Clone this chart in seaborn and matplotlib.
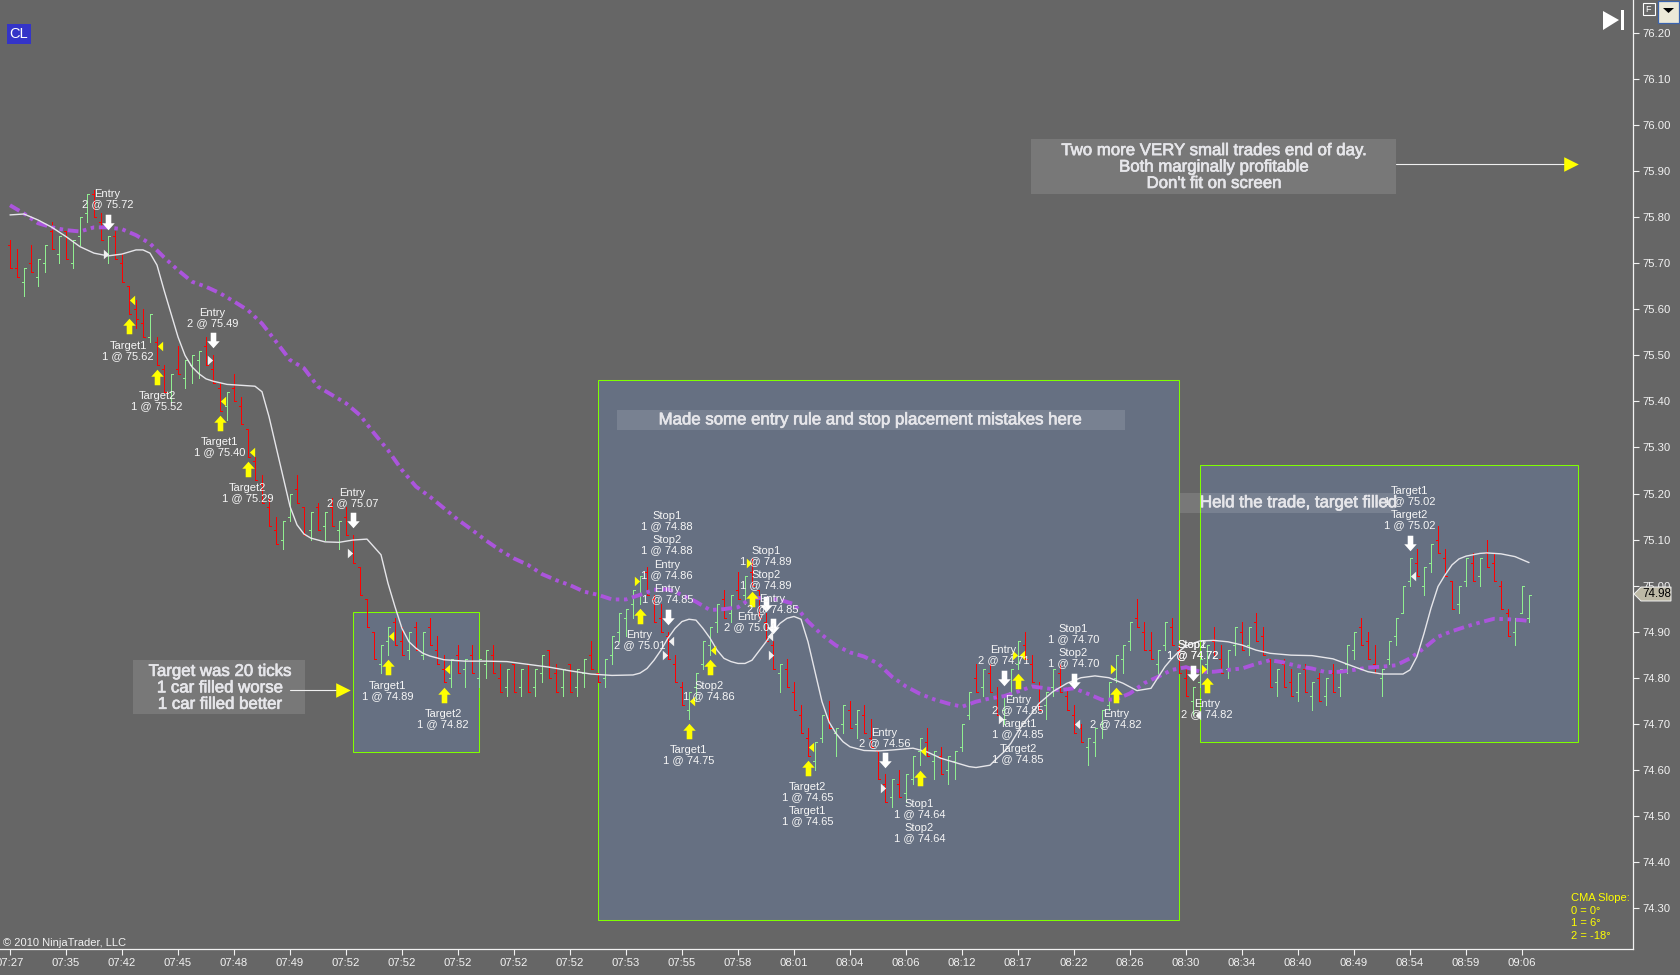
import numpy as np
import pandas as pd
import seaborn as sns
import matplotlib.pyplot as plt
import matplotlib.patheffects as pe
from matplotlib.patches import Rectangle, Polygon
from matplotlib.path import Path

BG = '#666666'
BOX = '#667082'
EDGE = '#7fff00'
BAR_UP = '#90ee90'
BAR_DOWN = '#ff0000'
CMA = '#ab55dc'
W, H = 1680, 975

# range bars
highs = [75.75,75.73,75.69,75.74,75.71,75.74,75.79,75.76,75.77,75.75,
         75.80,75.85,75.86,75.81,75.76,75.77,75.72,75.65,75.62,75.60,
         75.59,75.54,75.48,75.46,75.52,75.49,75.50,75.51,75.54,75.50,
         75.44,75.42,75.46,75.41,75.34,75.28,75.24,75.19,75.15,75.14,
         75.20,75.24,75.17,75.16,75.18,75.16,75.19,75.14,75.17,75.11,
         75.04,74.97,74.90,74.87,74.91,74.93,74.91,74.90,74.92,74.90,
         74.93,74.89,74.85,74.84,74.87,74.84,74.87,74.84,74.86,74.87,
         74.83,74.82,74.83,74.82,74.83,74.82,74.85,74.86,74.83,74.82,
         74.83,74.82,74.84,74.88,74.81,74.84,74.89,74.94,74.95,74.99,
         75.02,75.04,74.98,74.96,74.90,74.85,74.79,74.77,74.81,74.88,
         74.91,74.96,74.99,74.98,75.03,75.02,75.06,74.99,74.94,74.88,
         74.83,74.84,74.79,74.74,74.69,74.66,74.72,74.75,74.69,74.74,
         74.75,74.73,74.74,74.71,74.64,74.59,74.58,74.60,74.59,74.63,
         74.67,74.69,74.64,74.65,74.63,74.64,74.70,74.77,74.83,74.82,
         74.83,74.78,74.76,74.82,74.88,74.90,74.85,74.79,74.77,74.82,
         74.83,74.78,74.74,74.70,74.67,74.69,74.73,74.79,74.85,74.87,
         74.92,74.97,74.92,74.90,74.86,74.92,74.93,74.87,74.82,74.78,
         74.84,74.87,74.91,74.87,74.86,74.91,74.92,74.91,74.94,74.91,
         74.84,74.82,74.84,74.82,74.81,74.83,74.79,74.81,74.80,74.83,
         74.82,74.87,74.90,74.93,74.90,74.87,74.82,74.88,74.93,75.00,
         75.06,75.08,75.04,75.09,75.13,75.08,75.01,75.00,75.06,75.07,
         75.06,75.10,75.07,75.01,74.95,74.93,75.00,74.98]
lows = [75.69,75.67,75.63,75.68,75.65,75.68,75.73,75.70,75.71,75.69,
        75.74,75.79,75.80,75.75,75.70,75.71,75.66,75.59,75.56,75.54,
        75.53,75.48,75.42,75.40,75.46,75.43,75.44,75.45,75.48,75.44,
        75.38,75.36,75.40,75.35,75.28,75.23,75.18,75.13,75.09,75.08,
        75.14,75.18,75.11,75.10,75.12,75.10,75.13,75.08,75.11,75.05,
        74.98,74.91,74.84,74.81,74.85,74.87,74.85,74.84,74.86,74.84,
        74.87,74.83,74.79,74.78,74.81,74.78,74.81,74.78,74.80,74.81,
        74.77,74.76,74.77,74.76,74.77,74.76,74.79,74.80,74.77,74.76,
        74.77,74.76,74.78,74.82,74.79,74.78,74.83,74.88,74.89,74.93,
        74.96,74.98,74.92,74.90,74.84,74.79,74.74,74.71,74.75,74.82,
        74.85,74.90,74.93,74.92,74.97,74.96,75.00,74.93,74.88,74.82,
        74.77,74.78,74.73,74.68,74.63,74.60,74.66,74.69,74.63,74.68,
        74.69,74.67,74.68,74.65,74.58,74.53,74.52,74.54,74.53,74.57,
        74.61,74.63,74.58,74.59,74.57,74.58,74.64,74.71,74.77,74.76,
        74.77,74.72,74.70,74.76,74.82,74.84,74.79,74.73,74.71,74.76,
        74.77,74.73,74.68,74.66,74.61,74.63,74.67,74.73,74.79,74.81,
        74.86,74.91,74.86,74.84,74.80,74.86,74.87,74.81,74.76,74.72,
        74.78,74.81,74.85,74.81,74.80,74.85,74.86,74.85,74.88,74.85,
        74.78,74.76,74.78,74.76,74.75,74.77,74.73,74.75,74.74,74.77,
        74.76,74.81,74.84,74.87,74.84,74.81,74.76,74.83,74.87,74.94,
        75.00,75.02,74.98,75.03,75.07,75.02,74.95,74.94,75.00,75.01,
        75.00,75.04,75.01,74.95,74.89,74.87,74.94,74.92]
opens = [75.74,75.69,75.66,75.70,75.67,75.70,75.77,75.72,75.77,75.70,
         75.76,75.81,75.85,75.79,75.72,75.76,75.70,75.65,75.60,75.57,
         75.54,75.53,75.47,75.42,75.47,75.45,75.48,75.49,75.52,75.47,
         75.43,75.39,75.43,75.39,75.34,75.27,75.22,75.17,75.12,75.10,
         75.15,75.21,75.17,75.12,75.17,75.13,75.17,75.12,75.15,75.10,
         75.04,74.97,74.90,74.83,74.88,74.92,74.88,74.86,74.91,74.85,
         74.91,74.86,74.82,74.80,74.85,74.82,74.85,74.80,74.83,74.85,
         74.80,74.78,74.83,74.78,74.83,74.78,74.81,74.86,74.81,74.78,
         74.83,74.78,74.81,74.85,74.81,74.80,74.85,74.90,74.93,74.96,
         74.98,75.03,74.97,74.93,74.89,74.83,74.78,74.73,74.78,74.83,
         74.87,74.92,74.97,74.94,74.99,74.98,75.03,74.99,74.92,74.87,
         74.81,74.82,74.77,74.72,74.67,74.62,74.67,74.71,74.68,74.70,
         74.73,74.70,74.72,74.67,74.64,74.57,74.54,74.57,74.55,74.58,
         74.64,74.66,74.62,74.63,74.60,74.62,74.65,74.72,74.80,74.78,
         74.81,74.76,74.73,74.77,74.83,74.87,74.83,74.78,74.74,74.78,
         74.81,74.76,74.72,74.69,74.65,74.66,74.70,74.74,74.80,74.84,
         74.88,74.93,74.90,74.86,74.83,74.87,74.91,74.86,74.80,74.75,
         74.79,74.83,74.88,74.84,74.82,74.87,74.90,74.87,74.92,74.89,
         74.84,74.79,74.83,74.79,74.77,74.82,74.76,74.80,74.76,74.81,
         74.78,74.83,74.86,74.91,74.88,74.83,74.80,74.84,74.89,74.94,
         75.01,75.05,75.00,75.05,75.10,75.06,75.01,74.96,75.01,75.05,
         75.02,75.07,75.05,75.00,74.94,74.90,74.94,74.93]
closes = [75.69,75.67,75.69,75.68,75.71,75.74,75.73,75.76,75.71,75.75,
          75.80,75.85,75.80,75.75,75.76,75.71,75.66,75.59,75.58,75.54,
          75.59,75.48,75.42,75.46,75.46,75.49,75.50,75.51,75.48,75.44,
          75.38,75.42,75.40,75.35,75.28,75.23,75.18,75.13,75.09,75.14,
          75.20,75.18,75.11,75.16,75.12,75.16,75.13,75.14,75.11,75.05,
          74.98,74.91,74.84,74.87,74.91,74.87,74.85,74.90,74.86,74.90,
          74.87,74.83,74.79,74.84,74.81,74.84,74.81,74.84,74.86,74.81,
          74.77,74.82,74.77,74.82,74.77,74.82,74.85,74.80,74.77,74.82,
          74.77,74.82,74.84,74.82,74.79,74.84,74.89,74.94,74.95,74.99,
          75.02,74.98,74.92,74.90,74.84,74.79,74.74,74.77,74.81,74.88,
          74.91,74.96,74.93,74.98,74.97,75.02,75.00,74.93,74.88,74.82,
          74.83,74.78,74.73,74.68,74.63,74.66,74.72,74.69,74.69,74.74,
          74.69,74.73,74.68,74.65,74.58,74.53,74.58,74.54,74.59,74.63,
          74.67,74.63,74.64,74.59,74.63,74.64,74.70,74.77,74.77,74.82,
          74.77,74.72,74.76,74.82,74.88,74.84,74.79,74.73,74.77,74.82,
          74.77,74.73,74.68,74.66,74.67,74.69,74.73,74.79,74.85,74.87,
          74.92,74.91,74.86,74.84,74.86,74.92,74.87,74.81,74.76,74.78,
          74.84,74.87,74.85,74.81,74.86,74.91,74.86,74.91,74.88,74.85,
          74.78,74.82,74.78,74.76,74.81,74.77,74.79,74.75,74.80,74.77,
          74.82,74.87,74.90,74.87,74.84,74.81,74.82,74.88,74.93,75.00,
          75.06,75.02,75.04,75.09,75.07,75.02,74.95,75.00,75.06,75.01,
          75.06,75.04,75.01,74.95,74.89,74.93,75.00,74.98]

# white smoothed line and purple CMA
white_x = [0,2,4,6,8,10,12,14,16,18,19,20,21,22,23,24,25,26,27,28,29,31,33,35,36,37,38,39,40,41,42,43,45,47,49,
           51,53,54,55,56,57,58,59,60,62,65,68,71,74,77,80,83,86,89,90,91,92,93,94,95,96,97,98,99,100,101,102,103,104,105,106,
           107,108,109,110,111,112,113,114,115,116,117,118,119,120,122,124,126,129,131,133,135,137,138,140,141,142,143,144,145,146,147,149,
           151,153,155,157,159,161,163,165,166,167,168,170,172,174,176,178,180,183,186,189,192,194,196,199,200,201,202,203,204,205,206,207,208,210,211,213,215,217]
white_y = [75.805,75.807,75.794,75.778,75.758,75.736,75.722,75.716,75.720,75.729,75.729,75.722,75.696,75.642,75.591,75.540,75.500,75.475,75.460,75.449,75.444,75.437,75.435,75.433,75.421,75.367,75.302,75.237,75.172,75.132,75.112,75.103,75.095,75.094,75.099,
           75.101,75.067,75.005,74.954,74.907,74.878,74.864,74.853,74.847,74.839,74.836,74.836,74.835,74.829,74.823,74.815,74.808,74.805,74.806,74.810,74.820,74.838,74.860,74.886,74.907,74.922,74.927,74.925,74.907,74.886,74.860,74.842,74.835,74.831,74.831,74.838,
           74.858,74.878,74.900,74.918,74.929,74.933,74.927,74.878,74.813,74.748,74.704,74.679,74.661,74.650,74.642,74.641,74.643,74.647,74.639,74.625,74.616,74.607,74.605,74.610,74.625,74.639,74.658,74.683,74.705,74.723,74.744,74.770,
           74.788,74.800,74.804,74.800,74.788,74.772,74.777,74.824,74.842,74.857,74.869,74.880,74.881,74.878,74.871,74.860,74.853,74.849,74.848,74.841,74.824,74.813,74.808,74.808,74.817,74.846,74.896,74.951,74.998,75.023,75.045,75.058,75.064,75.070,75.071,75.069,75.063,75.050]
cma_x = list(range(0, 218, 2)) + [217]
cma_y = [75.826,75.808,75.787,75.778,75.772,75.769,75.778,75.778,75.774,75.761,
         75.743,75.713,75.685,75.660,75.649,75.635,75.617,75.598,75.569,75.530,
         75.490,75.472,75.432,75.414,75.396,75.370,75.331,75.294,75.251,75.215,
         75.193,75.168,75.143,75.121,75.098,75.077,75.059,75.045,75.025,75.012,
         75.001,74.987,74.980,74.970,74.970,74.980,74.991,74.992,74.980,74.965,
         74.947,74.949,74.953,74.974,74.972,74.969,74.960,74.922,74.893,74.870,
         74.855,74.846,74.831,74.802,74.781,74.765,74.753,74.744,74.737,74.748,
         74.755,74.760,74.770,74.781,74.777,74.773,74.777,74.765,74.752,74.753,
         74.766,74.788,74.802,74.817,74.823,74.813,74.813,74.817,74.820,74.830,
         74.838,74.833,74.825,74.820,74.812,74.813,74.817,74.822,74.824,74.827,
         74.842,74.864,74.889,74.901,74.911,74.920,74.928,74.927,74.925,74.923]

# execution arrows and fill triangles
down_x = [14,29,49,94,108,109,125,142,152,169,200]
down_y = [75.79,75.533,75.142,74.932,74.960,74.912,74.621,74.799,74.793,74.810,75.092]
up_x = [17,21,30,34,54,62,90,100,97,106,114,130,144,158,171]
up_y = [75.564,75.453,75.353,75.253,74.823,74.762,74.934,74.823,74.684,74.971,74.604,74.582,74.793,74.762,74.784]
yl_x = [17.4,21.4,30.4,34.6,54.4,62.4,100.4,97.4,114.4,130.4,144.6]
yl_y = [75.62,75.52,75.40,75.29,74.89,74.82,74.86,74.75,74.65,74.64,74.85]
yr_x = [89.6,105.6,143.6,157.6,170.6]
yr_y = [75.01,75.05,74.85,74.82,74.82]
wr_x = [13.7,28.6,48.6,93.6,108.7,124.7,141.6]
wr_y = [75.72,75.49,75.07,74.85,74.85,74.56,74.71]
wl_x = [94.4,108.6,152.4,169.7,200.4]
wl_y = [74.88,74.89,74.70,74.72,75.02]

# order labels
trade_text = ['Entry\n2 @ 75.72','Target1\n1 @ 75.62','Target2\n1 @ 75.52','Entry\n2 @ 75.49','Target1\n1 @ 75.40',
              'Target2\n1 @ 75.29','Entry\n2 @ 75.07','Target1\n1 @ 74.89','Target2\n1 @ 74.82','Stop1\n1 @ 74.88',
              'Stop2\n1 @ 74.88','Entry\n1 @ 74.86','Entry\n1 @ 74.85','Entry\n2 @ 75.01','Stop2\n1 @ 74.86',
              'Target1\n1 @ 74.75','Stop1\n1 @ 74.89','Stop2\n1 @ 74.89','Entry\n2 @ 74.85','Entry\n2 @ 75.04',
              'Target2\n1 @ 74.65','Target1\n1 @ 74.65','Entry\n2 @ 74.56','Stop1\n1 @ 74.64','Stop2\n1 @ 74.64',
              'Entry\n2 @ 74.71','Entry\n2 @ 74.85','Target1\n1 @ 74.85','Target2\n1 @ 74.85','Stop1\n1 @ 74.70',
              'Stop2\n1 @ 74.70','Entry\n2 @ 74.82','Stop1\n1 @ 74.72','Stop2\n1 @ 74.72','Entry\n2 @ 74.82',
              'Target1\n1 @ 75.02','Target2\n1 @ 75.02']
trade_x = [13.9,16.9,21.0,28.9,29.9,33.9,48.9,53.9,61.9,93.9,93.9,93.9,93.9,89.9,99.9,96.9,108.0,108.0,108.9,105.7,
           113.9,113.9,124.9,129.9,129.9,141.9,144.0,144.0,144.0,151.9,151.9,158.0,168.9,168.9,171.0,199.9,199.9]
trade_y = [75.84,75.51,75.40,75.58,75.30,75.20,75.19,74.77,74.71,75.14,75.088,75.034,74.982,74.882,74.771,74.632,75.064,75.012,74.96,74.921,
           74.552,74.50,74.669,74.515,74.463,74.849,74.741,74.689,74.634,74.895,74.843,74.71,74.86,74.86,74.732,75.195,75.142]

price_ticks = [76.20,76.10,76.00,75.90,75.80,75.70,75.60,75.50,75.40,75.30,75.20,75.10,75.00,74.90,74.80,74.70,74.60,74.50,74.40,74.30]
time_labels = ['07:27','07:35','07:42','07:45','07:48','07:49','07:52','07:52','07:52','07:52','07:52','07:53','07:55','07:58',
               '08:01','08:04','08:06','08:12','08:17','08:22','08:26','08:30','08:34','08:40','08:49','08:54','08:59','09:06']
time_pos = list(range(0, 224, 8))

df = pd.DataFrame({'bar': np.arange(len(highs)), 'high': highs, 'low': lows, 'open': opens, 'close': closes})
df['up'] = df['close'] >= df['open']

sns.set_theme(style='dark', rc={'axes.facecolor': BG, 'figure.facecolor': BG, 'axes.grid': False})
plt.rcParams['font.family'] = ['Liberation Sans', 'DejaVu Sans']

ARROW_UP = Path([(0,1),(0.8,0.1),(0.36,0.1),(0.36,-1),(-0.36,-1),(-0.36,0.1),(-0.8,0.1),(0,1)])
ARROW_DOWN = Path([(0,-1),(0.8,-0.1),(0.36,-0.1),(0.36,1),(-0.36,1),(-0.36,-0.1),(-0.8,-0.1),(0,-1)])
TRI_LEFT = Path([(0.55,1),(-0.55,0),(0.55,-1),(0.55,1)])
TRI_RIGHT = Path([(-0.55,1),(0.55,0),(-0.55,-1),(-0.55,1)])


def fig_xy(points):
    # screen pixels to figure fraction, only for the window furniture
    return [(x / W, 1 - y / H) for x, y in points]


fig = plt.figure(figsize=(W / 100, H / 100), dpi=100)
ax = fig.add_axes([0, (H - 949) / H, 1633 / W, 949 / H])

# shaded trade windows
for x0, x1, p0, p1 in [(49, 67, 74.639, 74.943), (84, 167, 74.274, 75.447), (170, 224, 74.66, 75.262)]:
    ax.add_patch(Rectangle((x0, p0), x1 - x0, p1 - p0, facecolor=BOX, edgecolor=EDGE, lw=0.75, zorder=1))

# OHLC bars
for is_up, color in [(True, BAR_UP), (False, BAR_DOWN)]:
    part = df[df['up'] == is_up]
    ax.vlines(part['bar'], part['low'], part['high'], color=color, lw=0.72, zorder=2, antialiased=False)
    ax.hlines(part['open'], part['bar'] - 0.32, part['bar'], color=color, lw=0.72, zorder=2, antialiased=False)
    ax.hlines(part['close'], part['bar'], part['bar'] + 0.32, color=color, lw=0.72, zorder=2, antialiased=False)

sns.lineplot(x=cma_x, y=cma_y, ax=ax, color=CMA, lw=2.8, linestyle=(0, (2.8, 1.2, 0.9, 1.2, 0.9, 1.2)),
             estimator=None, sort=False, zorder=3)
sns.lineplot(x=white_x, y=white_y, ax=ax, color='#e6e6ea', lw=1.0, estimator=None, sort=False, zorder=3)

# note backgrounds
for x0, x1, p0, p1 in [(145.9, 198, 75.85, 75.97), (86.7, 159.3, 75.338, 75.381),
                       (167.1, 197.9, 75.158, 75.201), (17.6, 42.1, 74.721, 74.838)]:
    ax.add_patch(Rectangle((x0, p0), x1 - x0, p1 - p0, facecolor='#ffffff', alpha=0.12, lw=0, zorder=3))

# arrows and triangles
sns.scatterplot(x=up_x, y=up_y, ax=ax, marker=ARROW_UP, s=125, color='#ffff00', linewidth=0, zorder=4)
sns.scatterplot(x=down_x, y=down_y, ax=ax, marker=ARROW_DOWN, s=125, color='#ffffff', linewidth=0, zorder=4)
sns.scatterplot(x=yl_x, y=yl_y, ax=ax, marker=TRI_LEFT, s=48, color='#ffff00', linewidth=0, zorder=4)
sns.scatterplot(x=yr_x, y=yr_y, ax=ax, marker=TRI_RIGHT, s=48, color='#ffff00', linewidth=0, zorder=4)
sns.scatterplot(x=wl_x, y=wl_y, ax=ax, marker=TRI_LEFT, s=48, color='#f0f0f0', linewidth=0, zorder=4)
sns.scatterplot(x=wr_x, y=wr_y, ax=ax, marker=TRI_RIGHT, s=48, color='#f0f0f0', linewidth=0, zorder=4)

for text, x, y in zip(trade_text, trade_x, trade_y):
    ax.text(x, y, text, color='#f6f6f6', fontsize=8, ha='center', va='center', linespacing=1.02, zorder=5)

# big notes with their pointers
note = dict(color='#e6e6ea', fontsize=12.1, linespacing=1.12, zorder=5,
            path_effects=[pe.withStroke(linewidth=0.5, foreground='#e6e6ea')])
ax.text(172, 75.909, "Two more VERY small trades end of day.\nBoth marginally profitable\nDon't fit on screen",
        ha='center', va='center', **note)
ax.text(122.9, 75.36, 'Made some entry rule and stop placement mistakes here', ha='center', va='center', **note)
ax.text(170, 75.18, 'Held the trade, target filled', ha='left', va='center', **note)
ax.text(30, 74.778, 'Target was 20 ticks\n1 car filled worse\n1 car filled better', ha='center', va='center', **note)

for x0, x1, p in [(198, 223, 75.916), (40, 47.5, 74.773)]:
    ax.plot([x0, x1], [p, p], color='#f0f0f0', lw=0.8, zorder=4)
    sns.scatterplot(x=[x1], y=[p], ax=ax, marker='>', s=110, color='#ffff00', linewidth=0, zorder=5)

ax.set_xlim(-10 / 7, (1633 - 10) / 7)
ax.set_ylim(76.2717 - 949 / 460.5, 76.2717)
ax.set_xlabel('')
ax.set_ylabel('')
ax.set_xticks(time_pos)
ax.set_xticklabels(time_labels)
ax.set_yticks(price_ticks)
ax.set_yticklabels([f'{p:.2f}' for p in price_ticks])
ax.yaxis.tick_right()
ax.tick_params(axis='both', colors='#f2f2f2', labelsize=8.1, length=4.5, width=0.8, bottom=True, right=True, left=False, pad=2)
for side, spine in ax.spines.items():
    spine.set_visible(side in ('right', 'bottom'))
    spine.set_color('#f2f2f2')
    spine.set_linewidth(0.9)

# window furniture
fig.text(3 / W, 1 - 943 / H, '\u00a9 2010 NinjaTrader, LLC', color='#f2f2f2', fontsize=8, va='center')
fig.text(19 / W, 1 - 34 / H, 'CL', color='white', fontsize=10.5, ha='center', va='center',
         bbox=dict(facecolor='#3434c8', edgecolor='none', pad=2.2))
for line, py in zip(['CMA Slope:', '0 = 0\u00b0', '1 = 6\u00b0', '2 = -18\u00b0'], [898, 911, 923, 936]):
    fig.text(1571 / W, 1 - py / H, line, color='#ffff00', fontsize=8, va='center')

fig.add_artist(Polygon(fig_xy([(1603, 11), (1619, 20), (1603, 30)]), closed=True, facecolor='white', edgecolor='none', transform=fig.transFigure))
fig.add_artist(Rectangle((1621 / W, 1 - 30 / H), 3 / W, 20 / H, facecolor='white', edgecolor='none', transform=fig.transFigure))
fig.add_artist(Rectangle((1642.5 / W, 1 - 15 / H), 12 / W, 12.5 / H, facecolor='none', edgecolor='white', lw=0.8, transform=fig.transFigure))
fig.text(1648.5 / W, 1 - 9 / H, 'F', color='white', fontsize=6.5, ha='center', va='center')
fig.add_artist(Rectangle((1658 / W, 1 - 22.5 / H), 21 / W, 21.5 / H, facecolor='#ece9d8', edgecolor='#3a64b0', lw=0.9, transform=fig.transFigure))
fig.add_artist(Polygon(fig_xy([(1663, 8), (1674, 8), (1668.5, 13)]), closed=True, facecolor='black', edgecolor='none', transform=fig.transFigure))

# last price tag
fig.add_artist(Polygon(fig_xy([(1634, 594), (1641, 587), (1671, 587), (1671, 601), (1641, 601)]), closed=True,
                       facecolor='#bdb9a6', edgecolor='#f0f0f0', lw=0.7, transform=fig.transFigure))
fig.text(1656.5 / W, 1 - 594 / H, f'{closes[-1]:.2f}', color='black', fontsize=8.4, ha='center', va='center')

fig.savefig('out.png', dpi=100, facecolor=BG)
